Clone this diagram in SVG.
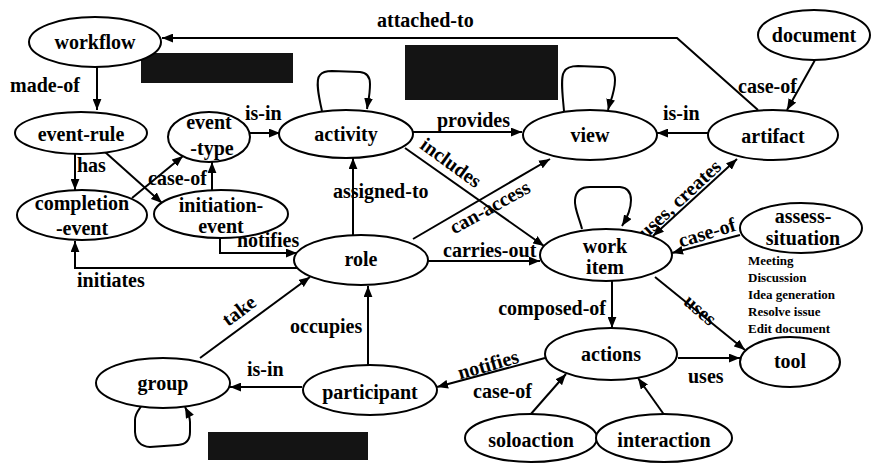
<svg xmlns="http://www.w3.org/2000/svg" width="872" height="465" viewBox="0 0 872 465">
<style>
  .n ellipse { fill: #fff; stroke: #000; stroke-width: 2; }
  text { font-family: "Liberation Serif", "Times New Roman", serif; font-weight: bold; font-size: 20px; fill: #000; }
  .n text { text-anchor: middle; }
  .small { font-size: 13px; }
  .e path { fill: none; stroke: #000; stroke-width: 2; }
  .a { marker-end: url(#arr); }
  .blk { fill: #141414; }
</style>
<defs>
  <marker id="arr" viewBox="0 0 10 8" refX="10" refY="4" markerWidth="11" markerHeight="9" markerUnits="userSpaceOnUse" orient="auto">
    <path d="M0,0 L10,4 L0,8 z" fill="#000"/>
  </marker>
  <marker id="arrs" viewBox="0 0 10 8" refX="10" refY="4" markerWidth="11" markerHeight="9" markerUnits="userSpaceOnUse" orient="auto-start-reverse">
    <path d="M0,0 L10,4 L0,8 z" fill="#000"/>
  </marker>
</defs>
<rect width="872" height="465" fill="#fff"/>

<g id="blackouts">
  <rect class="blk" x="141" y="53" width="152" height="30"/>
  <rect class="blk" x="405" y="45" width="153" height="55"/>
  <rect class="blk" x="208" y="432" width="160" height="28"/>
</g>

<g id="connectors" class="e">
  <path class="a" d="M97,67 L97,110"/>
  <path class="a" d="M75,154 L75,190"/>
  <path class="a" d="M105,152 L162,203"/>
  <path class="a" d="M132,198 L183,156"/>
  <path class="a" d="M212,190 L212,162"/>
  <path class="a" d="M250,133 L280,133"/>
  <path class="a" d="M322,111 C319,98 315,80 320,75 Q323,71 332,71 L360,72 Q370,73 370,84 C370,95 368,102 367,109"/>
  <path class="a" d="M413,132 L522,132"/>
  <path class="a" d="M405,148 L544,246"/>
  <path class="a" d="M564,111 C563,98 560,78 564,72 Q567,66 578,66 L603,67 Q615,68 615,80 C615,92 610,102 608,110"/>
  <path class="a" d="M708,133 L657,133"/>
  <path class="a" d="M815,60 L787,110"/>
  <path class="a" d="M758,110 L677,38 L162,38"/>
  <path class="a" d="M353,235 L353,158"/>
  <path class="a" d="M413,239 L550,159"/>
  <path class="a" d="M428,261 L540,261"/>
  <path class="a" d="M582,229 C580,220 574,208 575,200 Q576,187 590,187 L620,187 Q631,188 631,200 C631,210 627,218 622,226"/>
  <path d="M653,236 L737,159" marker-start="url(#arrs)" marker-end="url(#arrs)"/>
  <path class="a" d="M740,235 L672,253"/>
  <path class="a" d="M655,277 L745,350"/>
  <path class="a" d="M612,281 L612,328"/>
  <path class="a" d="M678,358 L740,358"/>
  <path class="a" d="M545,358 L437,387"/>
  <path class="a" d="M530,415 L566,374"/>
  <path class="a" d="M665,416 L638,378"/>
  <path class="a" d="M368,365 L368,286"/>
  <path class="a" d="M302,387 L230,387"/>
  <path class="a" d="M142,405 C139,410 135,413 135,420 L135,432 Q136,446 150,447 L178,445 Q190,444 190,432 L190,422 C190,416 187,411 185,407"/>
  <path class="a" d="M200,358 L310,277"/>
  <path class="a" d="M220,237 L220,253 L297,253"/>
  <path class="a" d="M298,268 L75,268 L75,241"/>
</g>

<g id="edge-labels">
  <text x="10" y="92">made-of</text>
  <text x="77" y="172">has</text>
  <text x="245" y="120">is-in</text>
  <text x="148" y="185">case-of</text>
  <text x="237" y="247">notifies</text>
  <text x="77" y="287">initiates</text>
  <text x="377" y="27">attached-to</text>
  <text x="437" y="127">provides</text>
  <text x="663" y="120">is-in</text>
  <text x="738" y="93">case-of</text>
  <text x="333" y="198">assigned-to</text>
  <text x="443" y="257">carries-out</text>
  <text x="606" y="315" text-anchor="end">composed-of</text>
  <text x="688" y="383">uses</text>
  <text x="290" y="333">occupies</text>
  <text x="247" y="376">is-in</text>
  <text x="473" y="398">case-of</text>
  <text transform="translate(447,168) rotate(36)" text-anchor="middle">includes</text>
  <text transform="translate(493,213) rotate(-29)" text-anchor="middle">can-access</text>
  <text transform="translate(684,204) rotate(-43)" text-anchor="middle">uses, creates</text>
  <text transform="translate(709,239) rotate(-17)" text-anchor="middle">case-of</text>
  <text transform="translate(696,315) rotate(41)" text-anchor="middle">uses</text>
  <text transform="translate(490,371) rotate(-16)" text-anchor="middle">notifies</text>
  <text transform="translate(243,316) rotate(-37)" text-anchor="middle">take</text>
</g>

<g id="situation-list" class="small">
  <text class="small" x="748" y="265">Meeting</text>
  <text class="small" x="748" y="282">Discussion</text>
  <text class="small" x="748" y="299">Idea generation</text>
  <text class="small" x="748" y="316">Resolve issue</text>
  <text class="small" x="748" y="333">Edit document</text>
</g>

<g id="workflow" class="n"><ellipse cx="95" cy="42" rx="66" ry="25"/><text x="95" y="49">workflow</text></g>
<g id="event-rule" class="n"><ellipse cx="81" cy="133" rx="66" ry="21"/><text x="81" y="141">event-rule</text></g>
<g id="event-type" class="n"><ellipse cx="209" cy="137" rx="41" ry="25"/><text x="209" y="129">event</text><text x="212" y="155">-type</text></g>
<g id="activity" class="n"><ellipse cx="346" cy="134" rx="67" ry="24"/><text x="346" y="141">activity</text></g>
<g id="view" class="n"><ellipse cx="590" cy="135" rx="67" ry="25"/><text x="590" y="142">view</text></g>
<g id="artifact" class="n"><ellipse cx="773" cy="135" rx="65" ry="25"/><text x="773" y="143">artifact</text></g>
<g id="document" class="n"><ellipse cx="814" cy="35" rx="56" ry="25"/><text x="814" y="42">document</text></g>
<g id="completion-event" class="n"><ellipse cx="82" cy="215" rx="65" ry="25"/><text x="82" y="210">completion</text><text x="82" y="235">-event</text></g>
<g id="initiation-event" class="n"><ellipse cx="221" cy="214" rx="67" ry="24"/><text x="221" y="212">initiation-</text><text x="221" y="233">event</text></g>
<g id="role" class="n"><ellipse cx="361" cy="260" rx="67" ry="25"/><text x="361" y="266">role</text></g>
<g id="work-item" class="n"><ellipse cx="606" cy="255" rx="66" ry="26"/><text x="605" y="253">work</text><text x="605" y="274">item</text></g>
<g id="assess-situation" class="n"><ellipse cx="801" cy="228" rx="61" ry="25"/><text x="803" y="223">assess-</text><text x="803" y="245">situation</text></g>
<g id="actions" class="n"><ellipse cx="611" cy="354" rx="66" ry="26"/><text x="611" y="361">actions</text></g>
<g id="tool" class="n"><ellipse cx="790" cy="362" rx="50" ry="25"/><text x="790" y="368">tool</text></g>
<g id="participant" class="n"><ellipse cx="370" cy="390" rx="67" ry="25"/><text x="370" y="399">participant</text></g>
<g id="group" class="n"><ellipse cx="163" cy="383" rx="67" ry="25"/><text x="163" y="390">group</text></g>
<g id="soloaction" class="n"><ellipse cx="531" cy="438" rx="66" ry="24"/><text x="531" y="447">soloaction</text></g>
<g id="interaction" class="n"><ellipse cx="664" cy="438" rx="68" ry="24"/><text x="664" y="447">interaction</text></g>
</svg>
